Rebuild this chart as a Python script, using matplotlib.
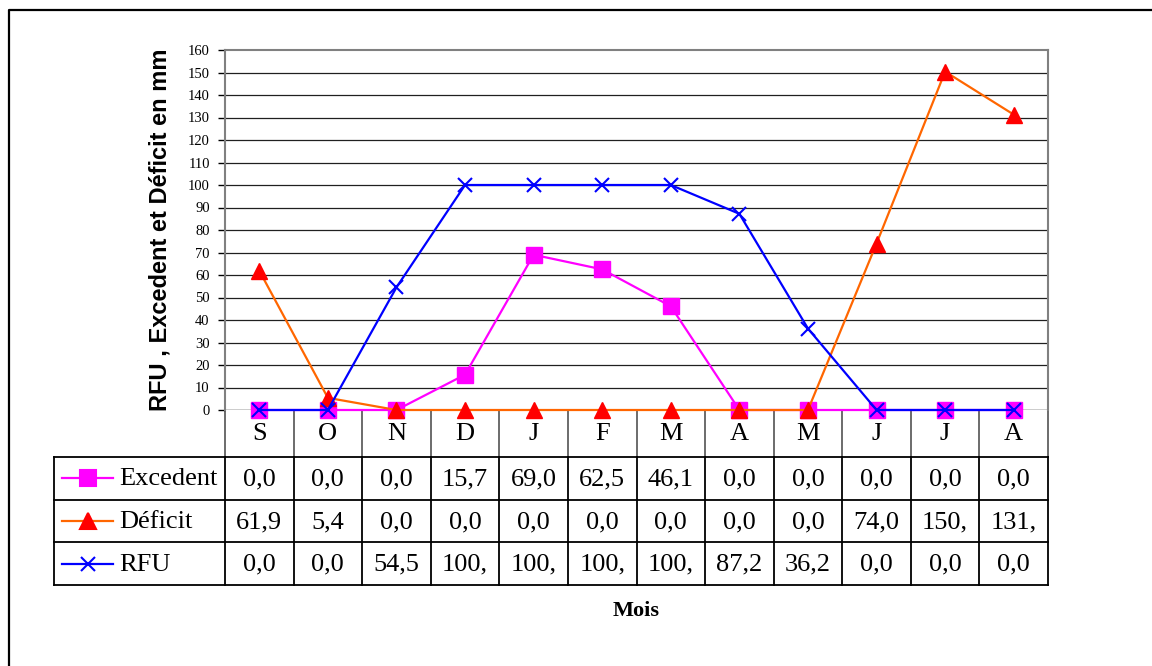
import matplotlib
matplotlib.use('Agg')
from matplotlib import pyplot as plt

# Bilan hydrique : RFU, excedent et deficit (mm)
mois = ['S', 'O', 'N', 'D', 'J', 'F', 'M', 'A', 'M', 'J', 'J', 'A']
excedent = [0.0, 0.0, 0.0, 15.7, 69.0, 62.5, 46.1, 0.0, 0.0, 0.0, 0.0, 0.0]
deficit = [61.9, 5.4, 0.0, 0.0, 0.0, 0.0, 0.0, 0.0, 0.0, 74.0, 150.4, 131.3]
rfu = [0.0, 0.0, 54.5, 100.0, 100.0, 100.0, 100.0, 87.2, 36.2, 0.0, 0.0, 0.0]
yticks = list(range(0, 161, 10))

W, H = 1152, 666
fig = plt.figure(figsize=(W/100., H/100.), dpi=100)

# pixel geometry (Excel-like layout)
px0, px1 = 225., 1048.      # plot area left/right
py0, py1 = 50., 410.        # plot area top/bottom (160 / 0)
leg_x = 54.                 # left edge of the data table
rows = [410., 457., 499.7, 542.3, 585.]
colw = (px1 - px0) / len(mois)

# background axes in pixel units for frame + table
bg = fig.add_axes([0, 0, 1, 1])
bg.set_xlim(0, W)
bg.set_ylim(H, 0)
bg.axis('off')
bg.plot([9, 9, W + 5], [H + 5, 10, 10], color='black', lw=1.6, clip_on=False)

serif = 'Liberation Serif'
sans = 'Liberation Sans'
tfs = 19   # table font size

# main plot
ax = fig.add_axes([px0/W, 1 - py1/H, (px1 - px0)/W, (py1 - py0)/H])
x = list(range(len(mois)))
ax.plot(x, excedent, '-s', color='#FF00FF', lw=1.6, markersize=11,
        markerfacecolor='#FF00FF', markeredgecolor='#FF00FF', clip_on=False, zorder=3)
ax.plot(x, deficit, '-^', color='#FF6600', lw=1.6, markersize=11.5,
        markerfacecolor='#FF0000', markeredgecolor='#FF0000', clip_on=False, zorder=4)
ax.plot(x, rfu, '-x', color='#0000FF', lw=1.6, markersize=10.5, markeredgewidth=1.5,
        clip_on=False, zorder=5)
ax.set_xlim(-0.5, len(mois) - 0.5)
ax.set_ylim(0, 160)
ax.set_yticks(yticks)
ax.set_yticklabels([str(t) for t in yticks], family=serif, fontsize=10.5)
ax.set_xticks([])
for t in yticks[1:-1]:
    ax.axhline(t, color='#202020', lw=0.9, zorder=1)
ax.axhline(0, color='black', lw=1.0, zorder=2)
for s in ['top', 'right', 'left']:
    ax.spines[s].set_color('#808080')
    ax.spines[s].set_linewidth(1.5)
ax.spines['bottom'].set_visible(False)
ax.tick_params(axis='y', direction='out', length=5, width=1, color='black', pad=6)
ax.set_ylabel('RFU , Excedent et Déficit en mm', family=sans, fontweight='bold',
              fontsize=17, labelpad=12)

# data table
tab_lw = 1.3
# header row (months)
for i in range(len(mois) + 1):
    bg.plot([px0 + i*colw]*2, [rows[0], rows[1]], color='#606060', lw=tab_lw)
for i, m in enumerate(mois):
    bg.text(px0 + (i + 0.5)*colw, (rows[0] + rows[1])/2 + 1, m, family=serif,
            fontsize=tfs, ha='center', va='center')
# body rows
for r in rows[1:]:
    bg.plot([leg_x, px1], [r, r], color='black', lw=tab_lw)
bg.plot([leg_x, leg_x], [rows[1], rows[-1]], color='black', lw=tab_lw)
for i in range(len(mois) + 1):
    bg.plot([px0 + i*colw]*2, [rows[1], rows[-1]], color='black', lw=tab_lw)

series = [('Excedent', excedent, 's', '#FF00FF', '#FF00FF', 11),
          ('Déficit', deficit, '^', '#FF6600', '#FF0000', 11.5),
          ('RFU', rfu, 'x', '#0000FF', '#0000FF', 10.5)]
for k, (name, vals, mk, lc, mc, ms) in enumerate(series):
    yc = (rows[k + 1] + rows[k + 2]) / 2
    bg.plot([62, 113], [yc, yc], color=lc, lw=1.6)
    bg.plot([87.5], [yc], marker=mk, color=mc, markersize=ms, markeredgewidth=1.5)
    bg.text(119, yc + 1, name, family=serif, fontsize=tfs, ha='left', va='center')
    for i, v in enumerate(vals):
        s = ('%.1f' % v).replace('.', ',')[:4]
        bg.text(px0 + (i + 0.5)*colw, yc + 1, s, family=serif, fontsize=tfs,
                ha='center', va='center')

bg.text((px0 + px1)/2, 611, 'Mois', family=serif, fontweight='bold', fontsize=16,
        ha='center', va='center')

plt.savefig('out.png', dpi=100)
